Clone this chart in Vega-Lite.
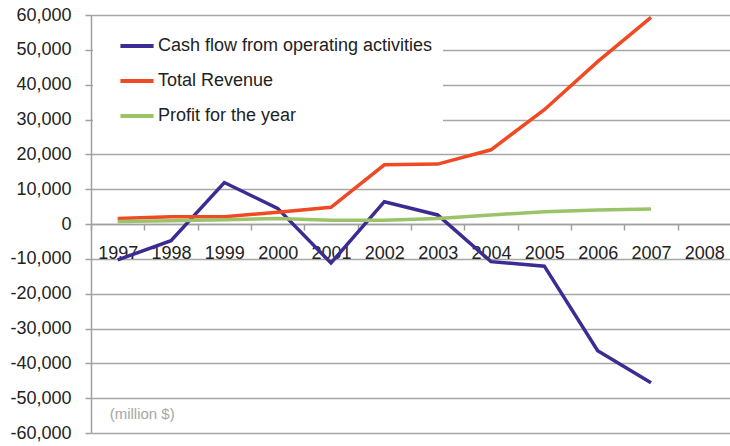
{
  "$schema": "https://vega.github.io/schema/vega-lite/v6.json",
  "width": 640,
  "height": 418,
  "autosize": {"type": "none"},
  "padding": {"left": 91, "top": 15, "right": 0, "bottom": 13},
  "background": "white",
  "config": {
    "view": {"stroke": null},
    "font": "Liberation Sans"
  },
  "layer": [
    {
      "data": {
        "values": [
          {"year": "1997", "series": "Cash flow from operating activities", "value": -10300},
          {"year": "1998", "series": "Cash flow from operating activities", "value": -4800},
          {"year": "1999", "series": "Cash flow from operating activities", "value": 11900},
          {"year": "2000", "series": "Cash flow from operating activities", "value": 4500},
          {"year": "2001", "series": "Cash flow from operating activities", "value": -11200},
          {"year": "2002", "series": "Cash flow from operating activities", "value": 6400},
          {"year": "2003", "series": "Cash flow from operating activities", "value": 2600},
          {"year": "2004", "series": "Cash flow from operating activities", "value": -10800},
          {"year": "2005", "series": "Cash flow from operating activities", "value": -12100},
          {"year": "2006", "series": "Cash flow from operating activities", "value": -36400},
          {"year": "2007", "series": "Cash flow from operating activities", "value": -45600},
          {"year": "1997", "series": "Total Revenue", "value": 1600},
          {"year": "1998", "series": "Total Revenue", "value": 2100},
          {"year": "1999", "series": "Total Revenue", "value": 2100},
          {"year": "2000", "series": "Total Revenue", "value": 3400},
          {"year": "2001", "series": "Total Revenue", "value": 4800},
          {"year": "2002", "series": "Total Revenue", "value": 17000},
          {"year": "2003", "series": "Total Revenue", "value": 17200},
          {"year": "2004", "series": "Total Revenue", "value": 21300},
          {"year": "2005", "series": "Total Revenue", "value": 32800},
          {"year": "2006", "series": "Total Revenue", "value": 46600},
          {"year": "2007", "series": "Total Revenue", "value": 59300},
          {"year": "1997", "series": "Profit for the year", "value": 700},
          {"year": "1998", "series": "Profit for the year", "value": 900},
          {"year": "1999", "series": "Profit for the year", "value": 1200},
          {"year": "2000", "series": "Profit for the year", "value": 1600},
          {"year": "2001", "series": "Profit for the year", "value": 1100},
          {"year": "2002", "series": "Profit for the year", "value": 1100},
          {"year": "2003", "series": "Profit for the year", "value": 1600},
          {"year": "2004", "series": "Profit for the year", "value": 2600},
          {"year": "2005", "series": "Profit for the year", "value": 3500},
          {"year": "2006", "series": "Profit for the year", "value": 4000},
          {"year": "2007", "series": "Profit for the year", "value": 4300}
        ]
      },
      "mark": {"type": "line", "strokeWidth": 3.5, "strokeJoin": "miter"},
      "encoding": {
        "x": {
          "field": "year",
          "type": "ordinal",
          "scale": {"domain": ["1997","1998","1999","2000","2001","2002","2003","2004","2005","2006","2007","2008"], "paddingInner": 0, "paddingOuter": 0},
          "axis": {
            "title": null,
            "orient": "bottom",
            "offset": -209,
            "labelAngle": 0,
            "labelFontSize": 18,
            "labelColor": "#222222",
            "labelPadding": 14,
            "labelOverlap": false,
            "domainColor": "#a0a0a0",
            "domainWidth": 1.5,
            "tickColor": "#a0a0a0",
            "tickWidth": 1.5,
            "tickSize": 6,
            "tickBand": "extent",
            "grid": false
          }
        },
        "y": {
          "field": "value",
          "type": "quantitative",
          "scale": {"domain": [-60000, 60000], "nice": false},
          "axis": {
            "title": null,
            "values": [-60000,-50000,-40000,-30000,-20000,-10000,0,10000,20000,30000,40000,50000,60000],
            "labelExpr": "replace(format(datum.value, ','), '\u2212', '-')",
            "labelFontSize": 18,
            "labelColor": "#222222",
            "labelPadding": 14,
            "labelOverlap": false,
            "domainColor": "#a0a0a0",
            "domainWidth": 1.5,
            "tickColor": "#a0a0a0",
            "tickWidth": 1.5,
            "tickSize": 6,
            "grid": true,
            "gridColor": "#a6a6a6",
            "gridWidth": 1.5
          }
        },
        "color": {
          "field": "series",
          "type": "nominal",
          "scale": {
            "domain": ["Cash flow from operating activities", "Total Revenue", "Profit for the year"],
            "range": ["#3d2b94", "#ef4a24", "#9bc46a"]
          },
          "legend": {
            "title": null,
            "orient": "none",
            "legendX": 2,
            "legendY": 2,
            "padding": 10,
            "symbolOffset": 15,
            "symbolType": "stroke",
            "symbolSize": 1100,
            "symbolStrokeWidth": 4,
            "labelFontSize": 18,
            "labelColor": "#222222",
            "labelOffset": 2,
            "labelLimit": 0,
            "rowPadding": 7,
            "fillColor": "white"
          }
        }
      }
    },
    {
      "data": {"values": [{"note": "(million $)"}]},
      "mark": {"type": "text", "align": "left", "baseline": "middle", "dx": -8, "fontSize": 15, "color": "#a6a6a6"},
      "encoding": {
        "x": {
          "datum": "1997",
          "type": "ordinal",
          "axis": {
            "title": null,
            "orient": "bottom",
            "offset": -209,
            "labelAngle": 0,
            "labelFontSize": 18,
            "labelColor": "#222222",
            "labelPadding": 14,
            "labelOverlap": false,
            "domainColor": "#a0a0a0",
            "domainWidth": 1.5,
            "tickColor": "#a0a0a0",
            "tickWidth": 1.5,
            "tickSize": 6,
            "tickBand": "extent",
            "grid": false
          }
        },
        "y": {
          "datum": -54500,
          "type": "quantitative",
          "axis": {
            "title": null,
            "values": [-60000,-50000,-40000,-30000,-20000,-10000,0,10000,20000,30000,40000,50000,60000],
            "labelExpr": "replace(format(datum.value, ','), '\u2212', '-')",
            "labelFontSize": 18,
            "labelColor": "#222222",
            "labelPadding": 14,
            "labelOverlap": false,
            "domainColor": "#a0a0a0",
            "domainWidth": 1.5,
            "tickColor": "#a0a0a0",
            "tickWidth": 1.5,
            "tickSize": 6,
            "grid": true,
            "gridColor": "#a6a6a6",
            "gridWidth": 1.5
          }
        },
        "text": {"field": "note"}
      }
    }
  ]
}
